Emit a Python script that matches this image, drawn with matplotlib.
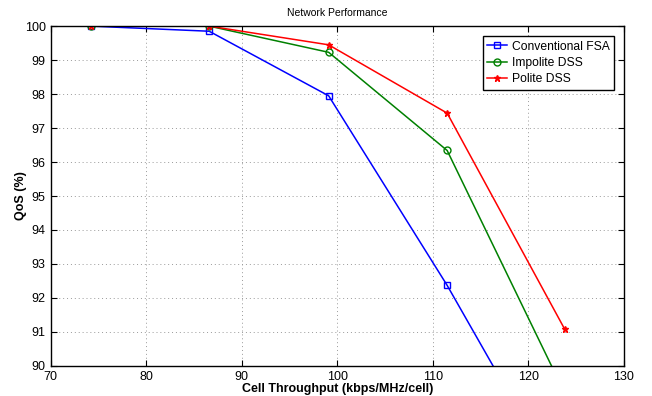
import matplotlib
matplotlib.use("Agg")
import matplotlib.pyplot as plt

plt.rcParams['font.family'] = ['Liberation Sans', 'DejaVu Sans']

throughput = [74.25, 86.6, 99.1, 111.5, 123.8]
conventional_fsa = [100.0, 99.85, 97.95, 92.37, 86.3]
impolite_dss = [100.0, 100.0, 99.23, 96.34, 89.2]
polite_dss = [100.0, 100.0, 99.45, 97.44, 91.08]

fig = plt.figure(figsize=(6.52, 3.96), dpi=100)
ax = fig.add_axes([0.0775, 0.076, 0.8795, 0.858])

ax.plot(throughput, conventional_fsa, color='blue', marker='s', markersize=4,
        markerfacecolor='none', linewidth=1.1, label='Conventional FSA')
ax.plot(throughput, impolite_dss, color='green', marker='o', markersize=5,
        markerfacecolor='none', linewidth=1.1, label='Impolite DSS')
ax.plot(throughput, polite_dss, color='red', marker='*', markersize=5,
        linewidth=1.1, label='Polite DSS')

ax.set_xlim(70, 130)
ax.set_ylim(90, 100)
ax.set_xticks(range(70, 131, 10))
ax.set_yticks(range(90, 101, 1))
ax.tick_params(direction='in', top=True, right=True, labelsize=9, length=4)
ax.grid(True, linestyle=(0, (1, 3)), color='#999999', linewidth=0.7)
for s in ax.spines.values():
    s.set_linewidth(1.0)

ax.set_title('Network Performance', fontsize=7.5, pad=7)
ax.set_xlabel('Cell Throughput (kbps/MHz/cell)', fontsize=9, fontweight='bold', labelpad=0)
ax.set_ylabel('QoS (%)', fontsize=9, fontweight='bold', labelpad=-2)

leg = ax.legend(loc='upper right', fontsize=8.7, fancybox=False, edgecolor='black',
                framealpha=1, borderaxespad=0.8, handlelength=1.6, handletextpad=0.4,
                labelspacing=0.35)
leg.get_frame().set_linewidth(1.0)

fig.savefig('out.png', dpi=100)
